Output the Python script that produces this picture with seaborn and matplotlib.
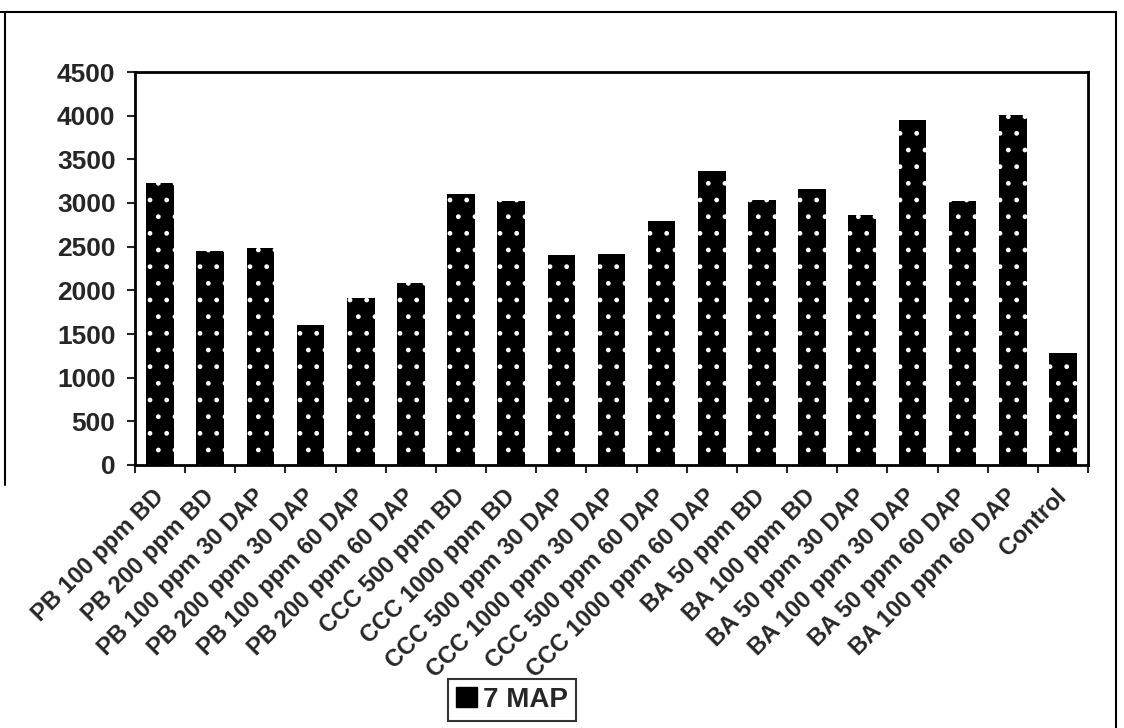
import numpy as np
import matplotlib
matplotlib.use("Agg")
import matplotlib.pyplot as plt
import seaborn as sns
from matplotlib.patches import Patch
from matplotlib.lines import Line2D

# data
categories = ["PB 100 ppm BD", "PB 200 ppm BD", "PB 100 ppm 30 DAP", "PB 200 ppm 30 DAP",
              "PB 100 ppm 60 DAP", "PB 200 ppm 60 DAP", "CCC 500 ppm BD", "CCC 1000 ppm BD",
              "CCC 500 ppm 30 DAP", "CCC 1000 ppm 30 DAP", "CCC 500 ppm 60 DAP",
              "CCC 1000 ppm 60 DAP", "BA 50 ppm BD", "BA 100 ppm BD", "BA 50 ppm 30 DAP",
              "BA 100 ppm 30 DAP", "BA 50 ppm 60 DAP", "BA 100 ppm 60 DAP", "Control"]
values_7map = [3230, 2450, 2480, 1600, 1910, 2080, 3100, 3020, 2400, 2420, 2790,
               3370, 3030, 3165, 2865, 3950, 3025, 4010, 1280]
yticks = [0, 500, 1000, 1500, 2000, 2500, 3000, 3500, 4000, 4500]
series_name = "7 MAP"

sns.set_style("white")
plt.rcParams['font.family'] = ['Liberation Sans', 'DejaVu Sans']
plt.rcParams['font.weight'] = 'bold'
plt.rcParams['hatch.linewidth'] = 1.0

fig = plt.figure(figsize=(11.24, 7.28), dpi=100)
ax = fig.add_axes([135 / 1124, 1 - 465 / 728, (1088 - 135) / 1124, (465 - 72) / 728])

sns.barplot(x=categories, y=values_7map, color="black", saturation=1, width=0.55, ax=ax)

# white dotted fill like the original pattern
for p in ax.patches:
    p.set_hatch('.')
    p.set_edgecolor('white')
    p.set_linewidth(0)

ax.set_xlim(-0.5, len(categories) - 0.5)
ax.set_ylim(0, 4500)
ax.set_yticks(yticks)
ax.set_yticklabels([str(v) for v in yticks], fontsize=19, fontweight='bold')

ax.set_xticks(range(len(categories)))
ax.set_xticklabels(categories, rotation=45, ha='right', va='center', rotation_mode='anchor',
                   fontsize=17, fontweight='bold')
ax.set_xticks(np.arange(-0.5, len(categories), 1), minor=True)
ax.tick_params(axis='x', which='major', length=0, pad=20)
ax.tick_params(axis='x', which='minor', length=6, width=1.5, direction='out', bottom=True)
ax.tick_params(axis='y', length=6, width=1.5, direction='out', left=True, pad=8)

for s in ax.spines.values():
    s.set_visible(True)
    s.set_color('black')
    s.set_linewidth(2)

ax.set_xlabel("")
ax.set_ylabel("")

# legend below the axis
handle = Patch(facecolor='black', edgecolor='black', label=series_name)
leg = fig.legend(handles=[handle], loc='center', bbox_to_anchor=(512 / 1124, 1 - 700 / 728),
                 frameon=True, fancybox=False, handlelength=0.75, handleheight=0.75,
                 handletextpad=0.2, borderpad=0.3, prop={'size': 20, 'weight': 'bold'})
leg.get_frame().set_edgecolor('black')
leg.get_frame().set_linewidth(1.5)

# outer chart border
fig.add_artist(Line2D([0, 1116 / 1124], [1 - 12 / 728, 1 - 12 / 728], color='black', lw=1.5))
fig.add_artist(Line2D([5 / 1124, 5 / 1124], [1 - 12 / 728, 1 - 485 / 728], color='black', lw=1.5))
fig.add_artist(Line2D([1116 / 1124, 1116 / 1124], [1 - 12 / 728, 0], color='black', lw=1.5))

fig.savefig("out.png", dpi=100)
